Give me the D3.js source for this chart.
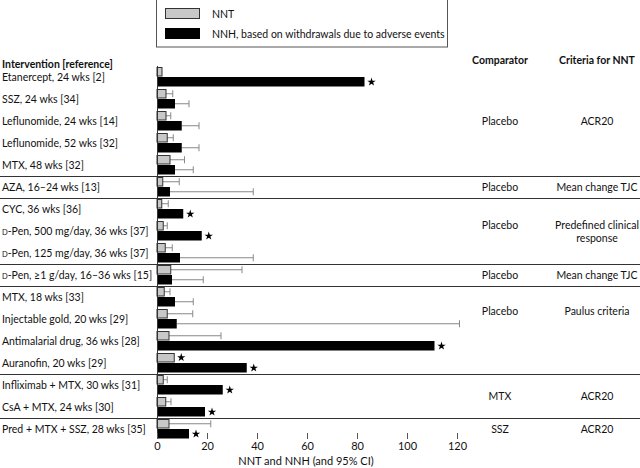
<!DOCTYPE html>
<html>
<head>
<meta charset="utf-8">
<script src="https://cdn.jsdelivr.net/npm/d3@7"></script>
<style>
  body { margin: 0; background: #fff; }
  text { font-family: Lato, "Open Sans", sans-serif; fill: #111; }
</style>
</head>
<body>
<div id="chart"></div>
<script>
// data
var interventions = [
  "Etanercept, 24 wks [2]", "SSZ, 24 wks [34]", "Leflunomide, 24 wks [14]",
  "Leflunomide, 52 wks [32]", "MTX, 48 wks [32]", "AZA, 16\u201324 wks [13]",
  "CYC, 36 wks [36]", "D-Pen, 500 mg/day, 36 wks [37]", "D-Pen, 125 mg/day, 36 wks [37]",
  "D-Pen, \u22651 g/day, 16\u201336 wks [15]", "MTX, 18 wks [33]", "Injectable gold, 20 wks [29]",
  "Antimalarial drug, 36 wks [28]", "Auranofin, 20 wks [29]", "Infliximab + MTX, 30 wks [31]",
  "CsA + MTX, 24 wks [30]", "Pred + MTX + SSZ, 28 wks [35]"
];
var nnt      = [2, 3.6, 3.6, 4.1, 5.2, 2.3, 1.9, 2.5, 3.3, 5.5, 2.9, 4.1, 4.8, 6.9, 2.5, 3.5, 4.8];
var nntUpper = [null, 6.3, 5.5, 6.5, 11, 8.9, 4.5, 4.1, 6.1, 34, 5.2, 14.3, 25.6, null, 4.1, 5.6, 21.5];
var nnh      = [83, 7.2, 9.9, 9.9, 7.2, 5.2, 10.5, 17.9, 9.2, 6, 7.2, 7.9, 111, 35.9, 26.3, 19.2, 12.8];
var nnhUpper = [null, 12.8, 16.8, 16.8, 14.5, 38.5, null, null, 38.5, 18.5, 14.5, 121, null, null, null, null, null];
var nntStar  = [0,0,0,0,0,0,0,0,0,0,0,0,0,1,0,0,0];
var nnhStar  = [1,0,0,0,0,0,1,1,0,0,0,0,1,1,1,1,1];

var groupSizes  = [5, 1, 3, 1, 4, 2, 1];
var comparators = ["Placebo", "Placebo", "Placebo", "Placebo", "Placebo", "MTX", "SSZ"];
var criteria    = [["ACR20"], ["Mean change TJC"], ["Predefined clinical", "response"],
                   ["Mean change TJC"], ["Paulus criteria"], ["ACR20"], ["ACR20"]];
var xTicks = [0, 20, 40, 60, 80, 100, 120];

var W = 640, H = 468;
var top0 = 66, rowH = 22;
var fs = 10.5;

var svg = d3.select("#chart").append("svg")
  .attr("width", W).attr("height", H);

var x = d3.scaleLinear().domain([0, 120]).range([157, 457]);
var y = d3.scaleBand().domain(d3.range(interventions.length))
  .range([top0, top0 + rowH * interventions.length]);

var rows = interventions.map(function(d, i) {
  return { i: i, label: d, nnt: nnt[i], nntU: nntUpper[i], nnh: nnh[i], nnhU: nnhUpper[i],
           sT: nntStar[i], sH: nnhStar[i] };
});

// legend
var lg = svg.append("g");
lg.append("rect").attr("x", 156.5).attr("y", -1).attr("width", 291).attr("height", 48)
  .attr("fill", "none").attr("stroke", "#555");
lg.append("rect").attr("x", 165.5).attr("y", 8.5).attr("width", 34).attr("height", 10)
  .attr("fill", "#c8c8c8").attr("stroke", "#333");
lg.append("rect").attr("x", 165.5).attr("y", 28.5).attr("width", 34).attr("height", 10)
  .attr("fill", "#000").attr("stroke", "#000");
lg.append("text").attr("x", 212).attr("y", 18).attr("font-size", fs).text("NNT");
lg.append("text").attr("x", 212).attr("y", 38).attr("font-size", fs)
  .text("NNH, based on withdrawals due to adverse events");

// headers
svg.append("text").attr("x", 2).attr("y", 68).attr("font-size", fs).attr("font-weight", "bold")
  .text("Intervention [reference]");
svg.append("text").attr("x", 500).attr("y", 64).attr("font-size", fs).attr("font-weight", "bold")
  .attr("text-anchor", "middle").text("Comparator");
svg.append("text").attr("x", 597).attr("y", 64).attr("font-size", fs).attr("font-weight", "bold")
  .attr("text-anchor", "middle").text("Criteria for NNT");

// row labels (small-cap D for D-Pen)
var lab = svg.append("g").selectAll("text").data(rows).enter().append("text")
  .attr("x", 2).attr("y", function(d) { return y(d.i) + 15; })
  .attr("font-size", fs);
lab.each(function(d) {
  var t = d3.select(this);
  if (d.label.indexOf("D-Pen") === 0) {
    t.append("tspan").attr("font-size", 7.5).text("D");
    t.append("tspan").text(d.label.slice(1));
  } else {
    t.text(d.label);
  }
});

// group dividers and right-hand columns
var start = 0;
groupSizes.forEach(function(n, g) {
  var gy0 = y(start), gy1 = y(start + n - 1) + rowH;
  var cy = (gy0 + gy1) / 2;
  if (g === 4) cy = gy0 + 25;
  var lines = criteria[g];
  var ty = cy + 4 - (lines.length - 1) * 6.5;
  svg.append("text").attr("x", 500).attr("y", ty).attr("font-size", fs)
    .attr("text-anchor", "middle").text(comparators[g]);
  lines.forEach(function(s, k) {
    svg.append("text").attr("x", 597).attr("y", ty + k * 13).attr("font-size", fs)
      .attr("text-anchor", "middle").text(s);
  });
  if (g < groupSizes.length - 1) {
    svg.append("line").attr("x1", 0).attr("x2", W)
      .attr("y1", Math.round(gy1) + 0.5).attr("y2", Math.round(gy1) + 0.5)
      .attr("stroke", "#333").attr("stroke-width", 1);
  }
  start += n;
});

var barH = 9.5;
var plot = svg.append("g");

// error bars
function errBar(val, up, off) {
  var sel = plot.append("g").selectAll("g").data(rows.filter(function(d) { return d[up] != null; }))
    .enter().append("g");
  sel.append("line")
    .attr("x1", function(d) { return x(d[val]); }).attr("x2", function(d) { return x(d[up]); })
    .attr("y1", function(d) { return y(d.i) + off; }).attr("y2", function(d) { return y(d.i) + off; })
    .attr("stroke", "#888").attr("stroke-width", 1);
  sel.append("line")
    .attr("x1", function(d) { return x(d[up]); }).attr("x2", function(d) { return x(d[up]); })
    .attr("y1", function(d) { return y(d.i) + off - 3.5; }).attr("y2", function(d) { return y(d.i) + off + 3.5; })
    .attr("stroke", "#888").attr("stroke-width", 1);
}
errBar("nnt", "nntU", 1 + barH / 2);
errBar("nnh", "nnhU", 11 + barH / 2);

// NNT bars
plot.selectAll("rect.nnt").data(rows).enter().append("rect")
  .attr("x", x(0)).attr("y", function(d) { return y(d.i) + 1.5; })
  .attr("width", function(d) { return x(d.nnt) - x(0); }).attr("height", barH - 1)
  .attr("fill", "#c8c8c8").attr("stroke", "#333").attr("stroke-width", 1);
// NNH bars
plot.selectAll("rect.nnh").data(rows).enter().append("rect")
  .attr("x", x(0)).attr("y", function(d) { return y(d.i) + 11; })
  .attr("width", function(d) { return x(d.nnh) - x(0); }).attr("height", barH)
  .attr("fill", "#000");

// stars
var star = d3.symbol().type(d3.symbolStar).size(22);
plot.selectAll("path.st").data(rows.filter(function(d) { return d.sT; })).enter().append("path")
  .attr("d", star).attr("fill", "#000")
  .attr("transform", function(d) { return "translate(" + (x(d.nnt) + 7) + "," + (y(d.i) + 5.5) + ")"; });
plot.selectAll("path.sh").data(rows.filter(function(d) { return d.sH; })).enter().append("path")
  .attr("d", star).attr("fill", "#000")
  .attr("transform", function(d) { return "translate(" + (x(d.nnh) + 7) + "," + (y(d.i) + 16) + ")"; });

// zero line
svg.append("line").attr("x1", x(0) + 0.5).attr("x2", x(0) + 0.5)
  .attr("y1", top0).attr("y2", 439).attr("stroke", "#333");

// x axis (ticks only, no baseline)
var ax = svg.append("g").attr("transform", "translate(0,433)")
  .call(d3.axisBottom(x).tickValues(xTicks).tickSize(6).tickPadding(3));
ax.select(".domain").remove();
ax.selectAll(".tick line").attr("stroke", "#555");
ax.selectAll(".tick text").attr("font-size", 11).attr("font-family", "Lato, sans-serif").attr("fill", "#111");

svg.append("text").attr("x", 306).attr("y", 465).attr("font-size", 11)
  .attr("text-anchor", "middle").text("NNT and NNH (and 95% CI)");
</script>
</body>
</html>
